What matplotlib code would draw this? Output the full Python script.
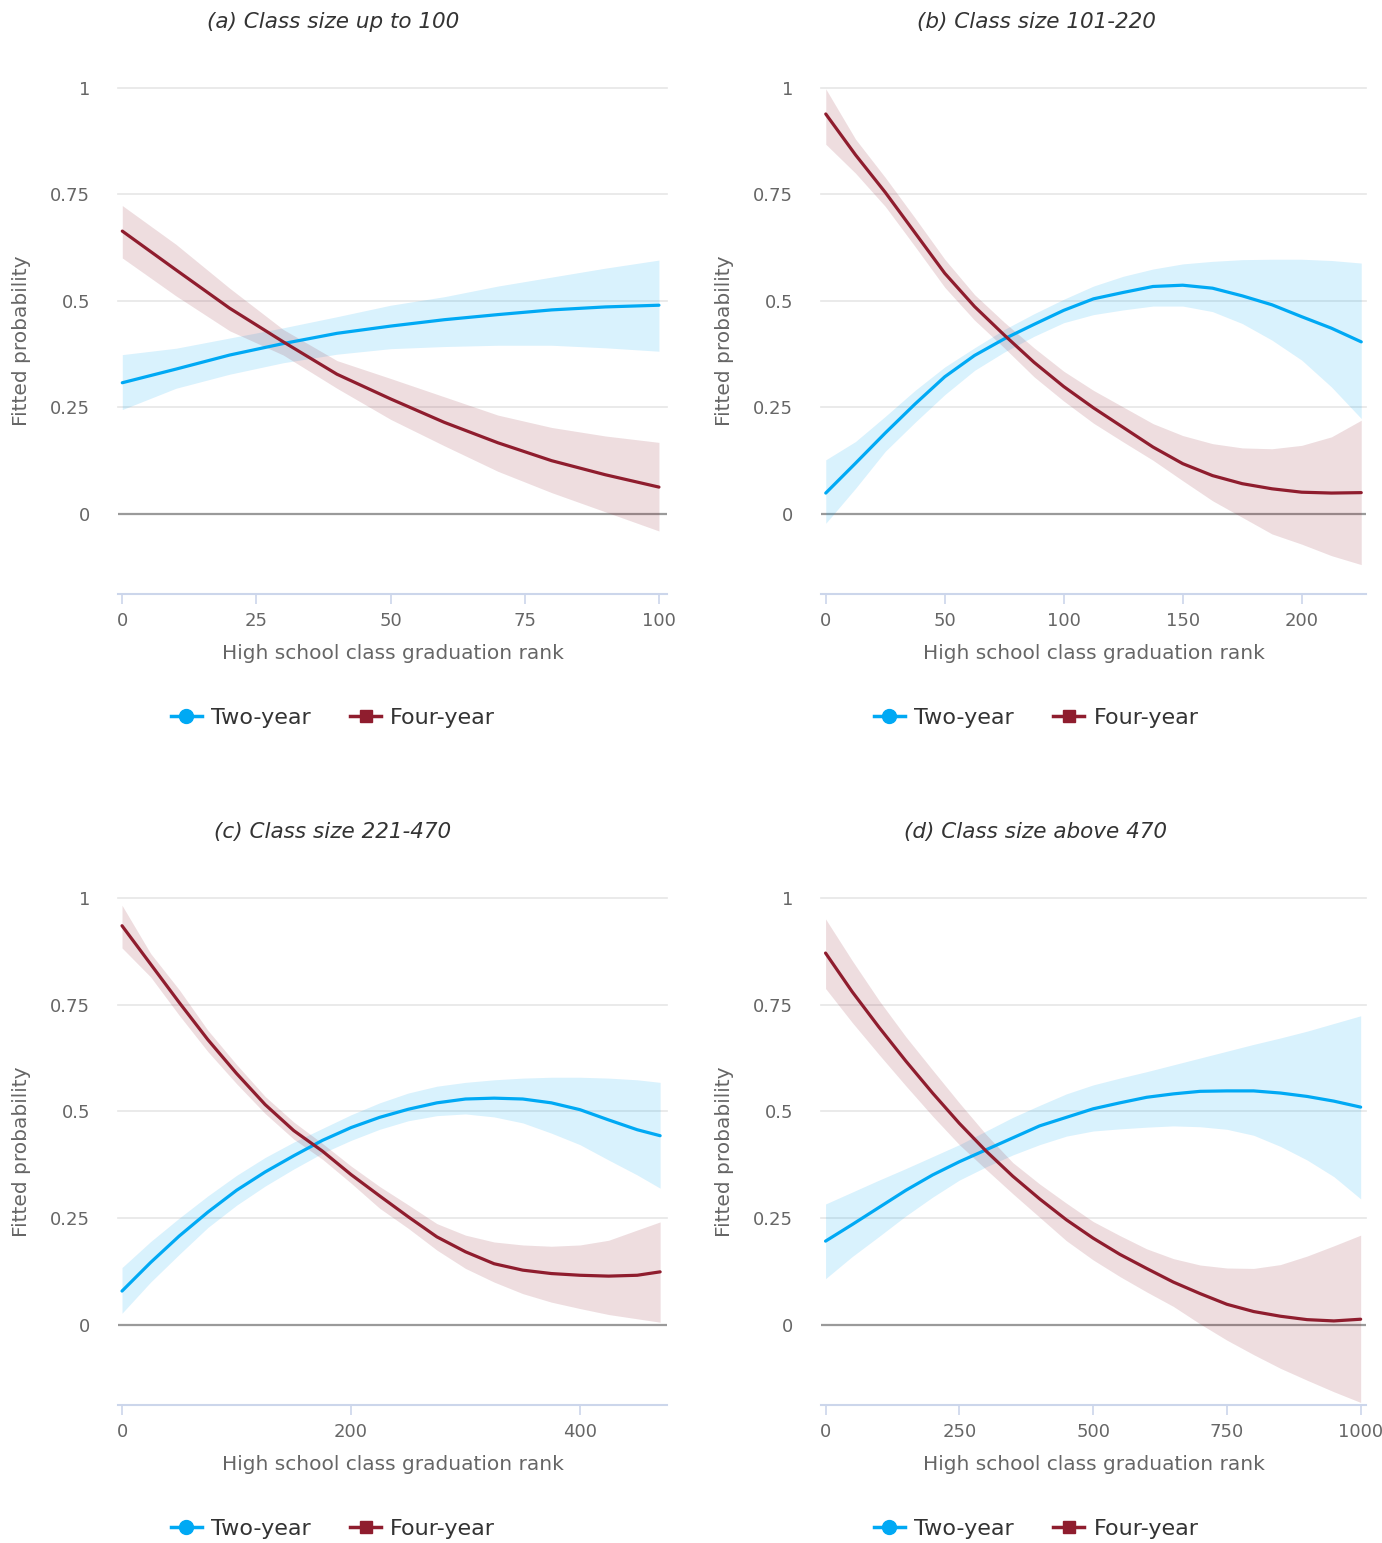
import matplotlib
matplotlib.use("Agg")
import matplotlib.pyplot as plt
from matplotlib.lines import Line2D

plt.rcParams['font.family'] = ['DejaVu Sans']

# ---- data (fitted probability by graduation rank) ----
# (a) class size up to 100
x_a = [0, 10, 20, 30, 40, 50, 60, 70, 80, 90, 100]
two_a = [0.308, 0.340, 0.373, 0.400, 0.424, 0.441, 0.456, 0.468, 0.479, 0.486, 0.490]
two_a_hi = [0.374, 0.389, 0.413, 0.437, 0.463, 0.490, 0.510, 0.535, 0.556, 0.577, 0.596]
two_a_lo = [0.245, 0.295, 0.328, 0.355, 0.375, 0.388, 0.393, 0.396, 0.396, 0.390, 0.382]
four_a = [0.664, 0.573, 0.483, 0.404, 0.328, 0.270, 0.215, 0.167, 0.125, 0.092, 0.063]
four_a_hi = [0.724, 0.633, 0.530, 0.433, 0.360, 0.318, 0.275, 0.232, 0.203, 0.183, 0.168]
four_a_lo = [0.601, 0.512, 0.430, 0.373, 0.295, 0.222, 0.160, 0.100, 0.050, 0.005, -0.040]

# (b) class size 101-220
x_b = [0, 12.5, 25, 37.5, 50, 62.5, 75, 87.5, 100, 112.5, 125,
       137.5, 150, 162.5, 175, 187.5, 200, 212.5, 225]
two_b = [0.049, 0.119, 0.190, 0.258, 0.322, 0.372, 0.411, 0.445, 0.478, 0.505, 0.520,
         0.534, 0.537, 0.530, 0.512, 0.491, 0.463, 0.436, 0.404]
two_b_hi = [0.127, 0.170, 0.229, 0.290, 0.345, 0.390, 0.433, 0.470, 0.504, 0.535, 0.558,
            0.575, 0.587, 0.593, 0.597, 0.598, 0.598, 0.595, 0.589]
two_b_lo = [-0.022, 0.060, 0.147, 0.215, 0.280, 0.337, 0.380, 0.417, 0.449, 0.468, 0.479,
            0.488, 0.488, 0.475, 0.447, 0.408, 0.361, 0.298, 0.224]
four_b = [0.939, 0.843, 0.755, 0.660, 0.565, 0.487, 0.420, 0.356, 0.299, 0.249, 0.203,
          0.157, 0.118, 0.090, 0.071, 0.059, 0.051, 0.049, 0.050]
four_b_hi = [0.998, 0.880, 0.790, 0.695, 0.598, 0.515, 0.450, 0.390, 0.335, 0.290, 0.251,
             0.212, 0.184, 0.165, 0.155, 0.153, 0.161, 0.181, 0.220]
four_b_lo = [0.868, 0.800, 0.722, 0.628, 0.532, 0.455, 0.390, 0.322, 0.265, 0.213, 0.169,
             0.126, 0.078, 0.031, -0.008, -0.047, -0.071, -0.098, -0.119]

# (c) class size 221-470
x_c = [0, 25, 50, 75, 100, 125, 150, 175, 200, 225,
       250, 275, 300, 325, 350, 375, 400, 425, 450, 470]
two_c = [0.079, 0.146, 0.208, 0.264, 0.315, 0.358, 0.396, 0.432, 0.462, 0.486,
         0.505, 0.520, 0.529, 0.531, 0.529, 0.520, 0.504, 0.480, 0.457, 0.443]
two_c_hi = [0.134, 0.195, 0.250, 0.302, 0.350, 0.392, 0.428, 0.460, 0.492, 0.520,
            0.543, 0.559, 0.568, 0.574, 0.578, 0.580, 0.580, 0.578, 0.574, 0.568]
two_c_lo = [0.027, 0.100, 0.165, 0.228, 0.280, 0.325, 0.365, 0.402, 0.432, 0.458,
            0.478, 0.490, 0.494, 0.487, 0.473, 0.449, 0.422, 0.386, 0.351, 0.320]
four_c = [0.935, 0.845, 0.755, 0.668, 0.589, 0.516, 0.455, 0.407, 0.352, 0.302,
          0.253, 0.206, 0.171, 0.143, 0.128, 0.120, 0.116, 0.114, 0.116, 0.124]
four_c_hi = [0.983, 0.870, 0.785, 0.690, 0.610, 0.535, 0.475, 0.425, 0.372, 0.324,
             0.281, 0.237, 0.210, 0.194, 0.187, 0.184, 0.187, 0.198, 0.222, 0.241]
four_c_lo = [0.883, 0.815, 0.725, 0.640, 0.565, 0.495, 0.435, 0.388, 0.332, 0.273,
             0.226, 0.175, 0.132, 0.100, 0.073, 0.053, 0.038, 0.024, 0.014, 0.006]

# (d) class size above 470
x_d = [0, 50, 100, 150, 200, 250, 300, 350, 400, 450, 500,
       550, 600, 650, 700, 750, 800, 850, 900, 950, 1000]
two_d = [0.196, 0.235, 0.275, 0.315, 0.351, 0.382, 0.410, 0.438, 0.466, 0.486, 0.506,
         0.520, 0.533, 0.541, 0.547, 0.548, 0.548, 0.543, 0.535, 0.524, 0.510]
two_d_hi = [0.283, 0.311, 0.339, 0.366, 0.394, 0.422, 0.454, 0.486, 0.514, 0.541, 0.562,
            0.578, 0.593, 0.609, 0.625, 0.641, 0.657, 0.672, 0.688, 0.706, 0.724]
two_d_lo = [0.108, 0.160, 0.207, 0.255, 0.299, 0.339, 0.370, 0.398, 0.422, 0.442, 0.454,
            0.459, 0.463, 0.466, 0.464, 0.458, 0.444, 0.418, 0.386, 0.347, 0.295]
four_d = [0.871, 0.780, 0.697, 0.618, 0.543, 0.472, 0.407, 0.348, 0.295, 0.246, 0.203,
          0.165, 0.132, 0.100, 0.073, 0.048, 0.031, 0.020, 0.012, 0.009, 0.013]
four_d_hi = [0.951, 0.853, 0.760, 0.675, 0.597, 0.520, 0.446, 0.380, 0.330, 0.285, 0.242,
             0.209, 0.178, 0.155, 0.140, 0.133, 0.132, 0.141, 0.161, 0.185, 0.210]
four_d_lo = [0.788, 0.708, 0.633, 0.560, 0.489, 0.422, 0.364, 0.307, 0.252, 0.197, 0.152,
             0.113, 0.077, 0.043, 0.002, -0.036, -0.070, -0.102, -0.130, -0.157, -0.182]

titles = ['(a) Class size up to 100', '(b) Class size 101-220',
          '(c) Class size 221-470', '(d) Class size above 470']
xticks = [[0, 25, 50, 75, 100], [0, 50, 100, 150, 200],
          [0, 200, 400], [0, 250, 500, 750, 1000]]
xlims = [(-0.8, 101.5), (-2.0, 227.0), (-3.5, 476), (-8.5, 1010)]
yticks = [0, 0.25, 0.5, 0.75, 1]
ylabels = ['0', '0.25', '0.5', '0.75', '1']

panels = [
    (x_a, two_a, two_a_lo, two_a_hi, four_a, four_a_lo, four_a_hi),
    (x_b, two_b, two_b_lo, two_b_hi, four_b, four_b_lo, four_b_hi),
    (x_c, two_c, two_c_lo, two_c_hi, four_c, four_c_lo, four_c_hi),
    (x_d, two_d, two_d_lo, two_d_hi, four_d, four_d_lo, four_d_hi),
]

BLUE = '#00a9f4'
RED = '#8f1d2e'
W, H = 1382, 1543

fig = plt.figure(figsize=(W / 100, H / 100), dpi=100)

# pixel boxes of the plot areas: (left, right, top, bottom)
boxes = [(118, 667, 88, 594), (821, 1366, 88, 594),
         (118, 667, 898, 1405), (821, 1366, 898, 1405)]
centers = [333, 1036, 333, 1036]      # chart centres for title / legend
title_y = [22, 22, 832, 832]
legend_y = [718, 718, 1529, 1529]

for i, (x, tw, tw_lo, tw_hi, fo, fo_lo, fo_hi) in enumerate(panels):
    l, r, t, b = boxes[i]
    ax = fig.add_axes([l / W, 1 - b / H, (r - l) / W, (b - t) / H])

    for yv in yticks[1:]:
        ax.axhline(yv, color='#e6e6e6', lw=1.2, zorder=0, clip_on=False)
    ax.axhline(0, color='#9a9a9a', lw=1.6, zorder=0.5)

    ax.fill_between(x, tw_lo, tw_hi, color=BLUE, alpha=0.15, lw=0, zorder=1)
    ax.fill_between(x, fo_lo, fo_hi, color=RED, alpha=0.15, lw=0, zorder=1)
    ax.plot(x, tw, color=BLUE, lw=2.3, zorder=3, solid_capstyle='round', solid_joinstyle='round')
    ax.plot(x, fo, color=RED, lw=2.3, zorder=3, solid_capstyle='round', solid_joinstyle='round')

    ax.set_xlim(*xlims[i])
    ax.set_ylim(-0.188, 1.0)
    ax.set_xticks(xticks[i])
    ax.set_yticks(yticks)
    ax.set_yticklabels(ylabels)

    for s in ['top', 'right', 'left']:
        ax.spines[s].set_visible(False)
    ax.spines['bottom'].set_color('#ccd6eb')
    ax.spines['bottom'].set_linewidth(1.5)
    ax.tick_params(axis='x', direction='out', length=7, width=1.2, color='#ccd6eb',
                   labelcolor='#666666', labelsize=13, pad=6)
    ax.tick_params(axis='y', length=0, labelcolor='#666666', labelsize=13, pad=20)

    ax.set_xlabel('High school class graduation rank', fontsize=14.5, color='#666666', labelpad=10)
    ax.set_ylabel('Fitted probability', fontsize=14.5, color='#666666', labelpad=14)

    fig.text(centers[i] / W, 1 - title_y[i] / H, titles[i], ha='center', va='center',
             fontsize=15.5, style='italic', color='#333333')

    handles = [Line2D([], [], color=BLUE, lw=2.5, marker='o', markersize=10),
               Line2D([], [], color=RED, lw=2.5, marker='s', markersize=9)]
    fig.legend(handles, ['Two-year', 'Four-year'], loc='center', ncol=2,
               bbox_to_anchor=(centers[i] / W, 1 - legend_y[i] / H), frameon=False,
               fontsize=16, handlelength=1.4, handletextpad=0.4, columnspacing=1.8,
               labelcolor='#333333')

fig.savefig('out.png', dpi=100)
